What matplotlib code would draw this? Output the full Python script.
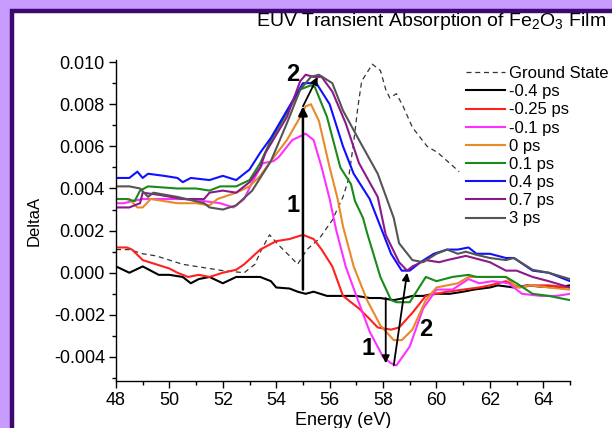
import matplotlib
matplotlib.use('Agg')
import matplotlib.pyplot as plt
from matplotlib.patches import Rectangle
from matplotlib.ticker import MultipleLocator, FormatStrFormatter

plt.rcParams['font.family'] = ['Liberation Sans', 'DejaVu Sans']
plt.rcParams['mathtext.fontset'] = 'custom'
plt.rcParams['mathtext.rm'] = 'Liberation Sans'

# ---------------- data ----------------
labels = ['Ground State', '-0.4 ps', '-0.25 ps', '-0.1 ps', '0 ps', '0.1 ps', '0.4 ps', '0.7 ps', '3 ps']

gs_x = [48.0, 48.5, 49.0, 49.5, 50.5, 51.5, 52.0, 52.8, 53.2, 53.45, 53.75, 54.1, 54.5, 54.8, 55.15, 55.6,
        56.1, 56.5, 56.7, 56.9, 57.05, 57.2, 57.6, 57.9, 58.1, 58.25, 58.5, 58.75, 59.1, 59.65, 60.05, 60.85]
gs_y = [0.0011, 0.0011, 0.0009, 0.0008, 0.0004, 0.0002, 0.0001, 0.0000, 0.0004, 0.0011, 0.0018, 0.0013,
        0.0008, 0.0004, 0.0011, 0.0016, 0.0025, 0.0036, 0.0044, 0.0062, 0.0078, 0.0091, 0.0099, 0.0096,
        0.0087, 0.0083, 0.0085, 0.0079, 0.0069, 0.0060, 0.0057, 0.0048]

bk_x = [48.0, 48.5, 49.0, 49.3, 49.6, 50.0, 50.5, 50.8, 51.1, 51.5, 52.0, 52.5, 53.0, 53.4, 53.8, 54.0, 54.5,
        54.8, 55.1, 55.4, 55.9, 56.5, 57.0, 57.5, 57.9, 58.4, 58.8, 59.1, 59.5, 59.9, 60.5, 61.0, 61.4, 62.0,
        62.3, 62.9, 63.4, 63.9, 64.5, 65.0]
bk_y = [0.0003, 0.0000, 0.0003, 0.0001, -0.0001, -0.0001, -0.0002, -0.0005, -0.0003, -0.0002, -0.0005,
        -0.0002, -0.0002, -0.0002, -0.0004, -0.0007, -0.00075, -0.0009, -0.0010, -0.0009, -0.0011, -0.0011,
        -0.0011, -0.0012, -0.0012, -0.0013, -0.0012, -0.0011, -0.0011, -0.0010, -0.0010, -0.0009, -0.0008,
        -0.0007, -0.0006, -0.0007, -0.0006, -0.00066, -0.0007, -0.0006]

rd_x = [48.0, 48.4, 48.6, 49.0, 49.5, 50.0, 50.3, 50.7, 51.1, 51.5, 52.0, 52.5, 52.8, 53.4, 54.0, 54.5, 55.0,
        55.4, 55.7, 56.1, 56.5, 57.1, 57.5, 57.8, 58.3, 58.6, 59.1, 59.6, 60.0, 60.4, 61.0, 61.6, 62.0, 62.6,
        63.1, 63.6, 64.2, 65.0]
rd_y = [0.0012, 0.0012, 0.0011, 0.0006, 0.0004, 0.0002, 0.0000, -0.0002, -0.0001, -0.0002, 0.0000, 0.00014,
        0.0004, 0.0011, 0.0015, 0.0016, 0.0018, 0.0016, 0.0011, 0.0003, -0.0011, -0.0017, -0.0022, -0.0026,
        -0.0027, -0.0026, -0.0019, -0.0011, -0.0010, -0.0009, -0.0008, -0.0007, -0.0006, -0.0004, -0.0007,
        -0.0006, -0.0006, -0.0007]

mg_x = [48.0, 48.3, 48.6, 49.0, 49.4, 50.0, 50.5, 51.3, 51.9, 52.4, 52.8, 53.1, 53.5, 53.9, 54.1, 54.6, 55.1,
        55.4, 55.7, 56.0, 56.25, 56.6, 57.0, 57.5, 58.0, 58.3, 58.5, 59.0, 59.5, 60.0, 60.6, 61.2, 61.6, 62.1,
        62.7, 63.2, 63.9, 64.5, 65.0]
mg_y = [0.0033, 0.0033, 0.0034, 0.0035, 0.0035, 0.0035, 0.0035, 0.0034, 0.0033, 0.0031, 0.0035, 0.0043,
        0.0052, 0.0053, 0.0055, 0.0063, 0.0066, 0.0063, 0.0050, 0.0035, 0.0020, 0.0003, -0.0011, -0.0028,
        -0.0040, -0.0043, -0.0044, -0.0035, -0.0017, -0.0008, -0.0008, -0.0003, -0.0005, -0.0004, -0.0005,
        -0.0010, -0.0011, -0.0011, -0.0010]

or_x = [48.0, 48.5, 48.8, 49.0, 49.3, 50.3, 51.0, 51.5, 51.8, 52.5, 53.0, 53.4, 53.8, 54.4, 54.9, 55.1, 55.3,
        55.6, 56.0, 56.3, 56.5, 56.9, 57.4, 57.9, 58.4, 58.7, 59.1, 59.6, 60.0, 60.4, 60.8, 61.2, 61.6, 62.6,
        63.0, 63.5, 64.2, 65.0]
or_y = [0.0035, 0.0035, 0.0031, 0.0031, 0.0035, 0.0033, 0.0033, 0.0032, 0.0035, 0.0038, 0.0041, 0.0046,
        0.0053, 0.0063, 0.0074, 0.0079, 0.0080, 0.0072, 0.0050, 0.0035, 0.0022, 0.0003, -0.0013, -0.0025,
        -0.0032, -0.0032, -0.0027, -0.0013, -0.0007, -0.0006, -0.0005, -0.0002, -0.0002, -0.0002, -0.0007,
        -0.0006, -0.0007, -0.0008]

gr_x = [48.0, 48.4, 48.7, 48.9, 49.2, 50.3, 51.0, 51.5, 51.9, 52.5, 53.0, 53.4, 53.8, 54.4, 54.9, 55.3, 55.45,
        55.9, 56.4, 56.8, 56.95, 57.25, 57.4, 57.9, 58.3, 58.5, 59.0, 59.3, 59.6, 60.0, 60.6, 61.2, 61.5, 62.0,
        62.6, 63.0, 63.6, 64.2, 65.0]
gr_y = [0.0035, 0.0035, 0.0034, 0.0039, 0.0041, 0.0040, 0.0040, 0.0039, 0.0041, 0.0041, 0.0044, 0.0052,
        0.0063, 0.0076, 0.0087, 0.0089, 0.0088, 0.0074, 0.0050, 0.0042, 0.0034, 0.0026, 0.0019, -0.0002,
        -0.0013, -0.0014, -0.0014, -0.0008, -0.0002, -0.0004, -0.0002, -0.0001, -0.0002, -0.0002, -0.0002,
        -0.0005, -0.0010, -0.0011, -0.0013]

bl_x = [48.0, 48.5, 48.8, 49.0, 49.2, 49.8, 50.3, 50.5, 50.8, 51.5, 52.0, 52.5, 53.0, 53.4, 53.8, 54.4, 55.0,
        55.3, 55.5, 56.0, 56.5, 56.9, 57.5, 57.9, 58.3, 58.7, 59.0, 59.4, 59.9, 60.4, 60.8, 61.2, 61.5, 62.0,
        62.6, 62.9, 63.6, 64.2, 65.0]
bl_y = [0.0045, 0.0045, 0.0048, 0.0045, 0.0047, 0.0046, 0.0045, 0.0043, 0.0045, 0.0044, 0.0046, 0.0044,
        0.0049, 0.0057, 0.0064, 0.0077, 0.0090, 0.0090, 0.0090, 0.0080, 0.0060, 0.0047, 0.0035, 0.0022,
        0.0009, 0.0001, 0.0001, 0.0005, 0.0009, 0.0011, 0.0011, 0.0012, 0.0009, 0.0009, 0.0007, 0.0007,
        0.0001, 0.0000, -0.0004]

pu_x = [48.0, 48.5, 48.9, 49.0, 49.6, 50.5, 51.3, 51.5, 52.0, 52.5, 53.0, 53.4, 53.6, 54.4, 54.9, 55.1, 55.4,
        55.7, 56.1, 56.6, 57.1, 57.8, 58.1, 58.6, 58.9, 59.1, 59.6, 60.1, 60.4, 61.1, 62.0, 62.6, 63.0, 63.6,
        64.2, 65.0]
pu_y = [0.0031, 0.0031, 0.0033, 0.0038, 0.0037, 0.0035, 0.0035, 0.0038, 0.0039, 0.0038, 0.0043, 0.0050,
        0.0057, 0.0074, 0.0091, 0.0094, 0.0093, 0.0093, 0.0086, 0.0071, 0.0052, 0.0036, 0.0018, 0.0005,
        0.0001, 0.0003, 0.0006, 0.0005, 0.0006, 0.0008, 0.0005, 0.0001, 0.0001, -0.0002, -0.0004, -0.0007]

gy_x = [48.0, 48.5, 48.9, 49.2, 49.4, 50.3, 51.3, 51.5, 52.0, 52.5, 53.1, 53.8, 54.4, 54.9, 55.3, 55.6, 56.1,
        56.5, 57.1, 57.8, 58.4, 58.6, 59.1, 59.5, 60.0, 60.4, 60.8, 61.1, 61.5, 62.0, 62.6, 62.9, 63.6, 64.2,
        65.0]
gy_y = [0.0041, 0.0041, 0.0040, 0.0036, 0.0038, 0.0036, 0.0033, 0.0031, 0.0030, 0.0032, 0.0039, 0.0053,
        0.0071, 0.0087, 0.0093, 0.0094, 0.0090, 0.0077, 0.0063, 0.0047, 0.0026, 0.0014, 0.0006, 0.0005,
        0.0009, 0.0011, 0.0009, 0.0010, 0.00085, 0.0007, 0.0006, 0.0007, 0.00014, 0.0000, -0.0003]

colors = ['#333333', '#000000', '#ff2020', '#ff30ff', '#e8892a', '#1a8a1a', '#1010ff', '#8a1a8a', '#555555']

# ---------------- figure ----------------
W, H = 612, 428
fig = plt.figure(figsize=(W / 100, H / 100), dpi=100)
fig.patch.set_facecolor('#c89bff')
frame = Rectangle((11.5 / W, -0.1), 2.0, 1.1 - 11.5 / H, transform=fig.transFigure,
                  facecolor='white', edgecolor='#3c0a6e', linewidth=3.2, zorder=-10)
fig.patches.append(frame)

ax = fig.add_axes([116 / W, 1 - 381 / H, (570 - 116) / W, (381 - 60) / H])
ax.set_facecolor('none')
ax.set_zorder(5)

series = [(gs_x, gs_y), (bk_x, bk_y), (rd_x, rd_y), (mg_x, mg_y), (or_x, or_y),
          (gr_x, gr_y), (bl_x, bl_y), (pu_x, pu_y), (gy_x, gy_y)]
for i, ((xs, ys), lab, c) in enumerate(zip(series, labels, colors)):
    if i == 0:
        ax.plot(xs, ys, color=c, lw=0.9, ls=(0, (4, 3)), label=lab)
    else:
        ax.plot(xs, ys, color=c, lw=1.5, label=lab)

ax.set_xlim(48, 65)
ax.set_ylim(-0.00514, 0.0101)
ax.xaxis.set_major_locator(MultipleLocator(2))
ax.xaxis.set_minor_locator(MultipleLocator(1))
ax.yaxis.set_major_locator(MultipleLocator(0.002))
ax.yaxis.set_minor_locator(MultipleLocator(0.001))
ax.yaxis.set_major_formatter(FormatStrFormatter('%.3f'))
for s in ['top', 'right']:
    ax.spines[s].set_visible(False)
for s in ['left', 'bottom']:
    ax.spines[s].set_linewidth(1.0)
ax.tick_params(which='major', direction='out', length=5, width=1.0, labelsize=13)
ax.tick_params(axis='y', which='major', pad=3)
ax.tick_params(axis='x', which='major', pad=3)
ax.tick_params(which='minor', direction='out', length=3, width=1.0)

ax.set_xlabel('Energy (eV)', fontsize=13, labelpad=2)
ax.set_ylabel('DeltaA', fontsize=12, labelpad=9)

fig.text(0.705, 1 - 21 / H, 'EUV Transient Absorption of Fe$_2$O$_3$ Film', fontsize=14,
         ha='center', va='center')

leg = ax.legend(loc='upper left', bbox_to_anchor=(466 / W, 1 - 66 / H), bbox_transform=fig.transFigure,
                frameon=False, fontsize=12, handlelength=2.35, handletextpad=0.25, labelspacing=0.19,
                borderpad=0, borderaxespad=0)

# ---------------- annotations ----------------
arr_thick = dict(arrowstyle='-|>', lw=1.8, color='black', mutation_scale=13, shrinkA=0, shrinkB=0)
arr_thin = dict(arrowstyle='-|>', lw=1.3, color='black', mutation_scale=11, shrinkA=0, shrinkB=0)
ax.annotate('', xy=(55.0, 0.0079), xytext=(55.0, -0.0008), arrowprops=arr_thick)
ax.annotate('', xy=(55.55, 0.0093), xytext=(55.0, 0.0079), arrowprops=arr_thin)
ax.annotate('', xy=(58.1, -0.0043), xytext=(58.1, -0.0012), arrowprops=arr_thin)
ax.annotate('', xy=(58.9, 0.0000), xytext=(58.4, -0.0044), arrowprops=arr_thin)
bold = dict(fontsize=17, fontweight='bold', ha='center', va='center')
ax.text(54.62, 0.0094, '2', **bold)
ax.text(54.62, 0.0032, '1', **bold)
ax.text(57.45, -0.0036, '1', **bold)
ax.text(59.6, -0.0027, '2', **bold)

fig.savefig('out.png', dpi=100, facecolor=fig.get_facecolor())
